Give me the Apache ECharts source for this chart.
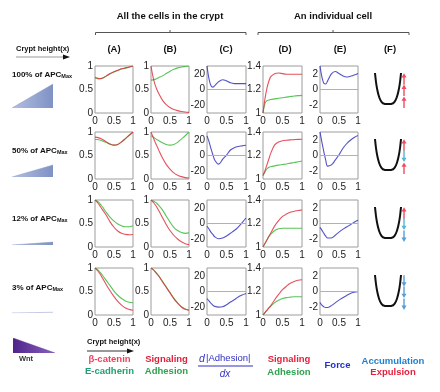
<!DOCTYPE html>
<html><head><meta charset="utf-8">
<script src="https://cdn.jsdelivr.net/npm/echarts/dist/echarts.min.js"></script>
<style>html,body{margin:0;padding:0;background:#fff}#c{width:440px;height:392px}</style>
</head><body><div id="c"></div>
<script>
// ---------- DATA ----------
const xs = [0,0.05,0.1,0.15,0.2,0.3,0.4,0.5,0.6,0.7,0.8,0.9,1];
const rowLabels = ['100% of APC','50% of APC','12% of APC','3% of APC'];
const apcLevels = [100, 50, 12, 3];
const colLabels = ['(A)','(B)','(C)','(D)','(E)','(F)'];
const xTicks = [0, 0.5, 1];

// Row 1 : 100% APC
const r1_betaCatenin = [0.76,0.745,0.735,0.735,0.745,0.79,0.84,0.88,0.91,0.94,0.96,0.98,1.0];
const r1_eCadherin   = [0.745,0.735,0.725,0.73,0.74,0.785,0.835,0.875,0.905,0.935,0.955,0.975,0.995];
const r1_signaling   = [1.0,0.78,0.62,0.51,0.42,0.275,0.18,0.116,0.076,0.05,0.032,0.02,0.014];
const r1_adhesion    = [0.7,0.705,0.715,0.73,0.75,0.79,0.84,0.89,0.93,0.96,0.98,0.99,1.0];
const r1_dAdhesion   = [30,14,5,3,5,10,12.5,11,8.5,7.5,7.5,7.5,7.5];
const r1_cellSignal  = [1.0,1.12,1.21,1.27,1.31,1.335,1.34,1.335,1.33,1.33,1.33,1.33,1.33];
const r1_cellAdh     = [1.0,1.08,1.105,1.11,1.115,1.12,1.125,1.13,1.135,1.14,1.145,1.148,1.15];
const r1_force       = [3.0,1.6,0.8,0.7,1.1,2.0,2.3,2.05,1.75,1.6,1.7,1.85,2.05];

// Row 2 : 50% APC
const r2_betaCatenin = [0.89,0.885,0.875,0.86,0.84,0.79,0.745,0.72,0.735,0.79,0.86,0.93,1.0];
const r2_eCadherin   = [0.84,0.84,0.835,0.825,0.81,0.775,0.74,0.72,0.735,0.79,0.86,0.93,1.0];
const r2_signaling   = [1.0,0.9,0.8,0.71,0.62,0.45,0.31,0.21,0.13,0.08,0.05,0.03,0.02];
const r2_adhesion    = [0.92,0.9,0.87,0.84,0.82,0.77,0.735,0.72,0.735,0.78,0.85,0.92,1.0];
const r2_dAdhesion   = [25,18,9,1,-6,-11,-5,0.5,7,10,11.5,12.3,13];
const r2_cellSignal  = [1.03,1.07,1.12,1.17,1.22,1.29,1.315,1.325,1.33,1.333,1.335,1.337,1.338];
const r2_cellAdh     = [1.03,1.06,1.085,1.1,1.105,1.112,1.118,1.123,1.128,1.135,1.14,1.147,1.153];
const r2_force       = [3.0,1.7,0.5,-0.6,-1.35,-1.2,-0.6,0.1,0.9,1.5,1.95,2.3,2.55];

// Row 3 : 12% APC
const r3_betaCatenin = [1.0,0.96,0.91,0.85,0.79,0.67,0.53,0.42,0.34,0.29,0.27,0.26,0.265];
const r3_eCadherin   = [1.0,0.98,0.95,0.9,0.85,0.73,0.63,0.55,0.49,0.45,0.43,0.43,0.45];
const r3_signaling   = [1.0,0.96,0.91,0.85,0.78,0.63,0.48,0.35,0.25,0.17,0.11,0.07,0.05];
const r3_adhesion    = [1.0,0.985,0.96,0.93,0.89,0.79,0.66,0.53,0.42,0.35,0.31,0.29,0.3];
const r3_dAdhesion   = [-3.5,-7,-11,-14,-17,-19.5,-18.5,-16,-12.5,-9,-4.5,1,7];
const r3_cellSignal  = [1.0,1.03,1.06,1.09,1.12,1.18,1.225,1.26,1.28,1.295,1.305,1.31,1.315];
const r3_cellAdh     = [1.0,1.03,1.06,1.09,1.11,1.14,1.155,1.16,1.16,1.16,1.16,1.16,1.16];
const r3_force       = [-0.5,-0.85,-1.25,-1.6,-1.85,-1.85,-1.5,-1.1,-0.75,-0.45,-0.15,0.15,0.4];

// Row 4 : 3% APC
const r4_betaCatenin = [1.0,0.96,0.91,0.85,0.78,0.64,0.51,0.39,0.29,0.21,0.15,0.12,0.1];
const r4_eCadherin   = [1.0,0.975,0.94,0.89,0.84,0.73,0.62,0.51,0.42,0.35,0.3,0.27,0.26];
const r4_signaling   = [1.0,0.97,0.93,0.88,0.83,0.71,0.59,0.47,0.35,0.25,0.17,0.12,0.1];
const r4_adhesion    = [1.0,0.972,0.935,0.887,0.838,0.718,0.598,0.478,0.358,0.258,0.178,0.127,0.105];
const r4_dAdhesion   = [-9,-12,-15,-17.5,-19,-20,-19.5,-17,-13.5,-10.5,-7,-4.5,-2.5];
const r4_cellSignal  = [1.0,1.02,1.04,1.06,1.08,1.13,1.175,1.215,1.245,1.27,1.285,1.295,1.3];
const r4_cellAdh     = [1.0,1.02,1.04,1.06,1.075,1.105,1.125,1.14,1.148,1.152,1.155,1.155,1.155];
const r4_force       = [-1.4,-1.75,-1.95,-2.05,-2.05,-1.8,-1.45,-1.1,-0.8,-0.5,-0.25,-0.1,0.0];

// Column F : potential well and arrows
const uX = [-1,-0.95,-0.9,-0.8,-0.7,-0.6,-0.5,-0.4,-0.3,-0.2,0,0.2,0.3,0.4,0.5,0.6,0.7,0.8,0.9,0.95,1];
const uY = [1,0.8,0.64,0.41,0.25,0.14,0.07,0.03,0.01,0,0,0,0.01,0.03,0.07,0.14,0.25,0.41,0.64,0.8,1];
const arrowY = [0.81, 0.44, 0.06];
const arrowDirs = [
  ['up','up','up'],
  ['up','down','up'],
  ['up','down','down'],
  ['down','down','down']
];
const arrowColors = [
  ['#e8213a','#e8213a','#e8213a'],
  ['#e8213a','#25a6c8','#e8213a'],
  ['#e8213a','#25a6c8','#2b86d2'],
  ['#2b86d2','#2b86d2','#2b86d2']
];
const wntLevels = [[0,1],[1,0]];

// ---------- LAYOUT / STYLE ----------
const RED = '#e2323f', GREEN = '#3cb83c', BLUE = '#3535c0';
const FONT = 'Liberation Sans';
const rowTops = [66, 132, 200, 268];
const PH = 47;
const colLefts = [95, 151, 207, 263, 320];
const colW = [38, 38, 39, 39, 38];
const triBottoms = [108, 177, 245, 313];
const labelYs = [74, 150, 218, 287];

const rows = [
  [r1_betaCatenin,r1_eCadherin,r1_signaling,r1_adhesion,r1_dAdhesion,r1_cellSignal,r1_cellAdh,r1_force],
  [r2_betaCatenin,r2_eCadherin,r2_signaling,r2_adhesion,r2_dAdhesion,r2_cellSignal,r2_cellAdh,r2_force],
  [r3_betaCatenin,r3_eCadherin,r3_signaling,r3_adhesion,r3_dAdhesion,r3_cellSignal,r3_cellAdh,r3_force],
  [r4_betaCatenin,r4_eCadherin,r4_signaling,r4_adhesion,r4_dAdhesion,r4_cellSignal,r4_cellAdh,r4_force]
];

const pair = a => xs.map((x,i)=>[x,a[i]]);
const grids=[], xAxes=[], yAxes=[], series=[];
const labelStyle = {fontFamily: FONT, fontSize: 10, color: '#222'};

function addGrid(left, top, width, height, show){
  grids.push({left, top, width, height, show: !!show, borderColor:'#9c9c9c', borderWidth:1, backgroundColor: show?'#fff':'transparent', containLabel:false});
  return grids.length-1;
}
const yCfg = [
  {min:0,max:1,interval:0.5,fmt:v=>String(Math.round(v*10)/10)},
  {min:0,max:1,interval:0.5,fmt:v=>String(Math.round(v*10)/10)},
  {min:-30,max:30,interval:10,fmt:v=>{const r=Math.round(v);return r%20===0?String(r):'';}},
  {min:1,max:1.4,interval:0.2,fmt:v=>{const r=Math.round(v*10)/10;return r===1?'1':r.toFixed(1);}},
  {min:-3,max:3,interval:1,fmt:v=>{const r=Math.round(v);return r%2===0?String(r):'';}}
];

function line(gi, data, color, extra){
  return Object.assign({type:'line', xAxisIndex:gi, yAxisIndex:gi, data:pair(data), showSymbol:false, symbol:'none', smooth:0.35,
    lineStyle:{color, width:1.1, opacity:0.85}, itemStyle:{color}, silent:true, z:3}, extra||{});
}
const zeroLine = {silent:true, symbol:['none','none'], label:{show:false}, lineStyle:{color:'#a9b1c9', width:1, type:'solid'}, data:[{yAxis:0}]};

for(let r=0;r<4;r++){
  const d = rows[r];
  for(let c=0;c<5;c++){
    const gi = addGrid(colLefts[c], rowTops[r], colW[c], PH, true);
    xAxes.push({gridIndex:gi, type:'value', min:0, max:1, interval:0.5, axisLine:{show:false}, axisTick:{show:false}, splitLine:{show:false},
      axisLabel:Object.assign({margin:3, formatter:v=>String(Math.round(v*10)/10)}, labelStyle)});
    const yc = yCfg[c];
    yAxes.push({gridIndex:gi, type:'value', min:yc.min, max:yc.max, interval:yc.interval, axisLine:{show:false}, axisTick:{show:false}, splitLine:{show:false},
      axisLabel:Object.assign({margin:2, formatter:yc.fmt}, labelStyle)});
    if(c===0){ series.push(line(gi,d[1],GREEN)); series.push(line(gi,d[0],RED)); }
    if(c===1){ series.push(line(gi,d[3],GREEN)); series.push(line(gi,d[2],RED)); }
    if(c===2){ series.push(line(gi,d[4],BLUE,{markLine:zeroLine})); }
    if(c===3){ series.push(line(gi,d[6],GREEN)); series.push(line(gi,d[5],RED)); }
    if(c===4){ series.push(line(gi,d[7],BLUE,{markLine:zeroLine})); }
  }
  // column F
  const gf = addGrid(375, rowTops[r], 32, PH, false);
  xAxes.push({gridIndex:gf, type:'value', min:-1, max:1.46, show:false});
  yAxes.push({gridIndex:gf, type:'value', min:-0.29, max:1.226, show:false});
  series.push({type:'line', xAxisIndex:gf, yAxisIndex:gf, data:uX.map((x,i)=>[x,uY[i]]), smooth:0.4, showSymbol:false, symbol:'none',
    lineStyle:{color:'#111', width:2}, silent:true});
  const arrowPath = 'path://M2.5,0 L5,4.2 L3.2,4.2 L3.2,11 L1.8,11 L1.8,4.2 L0,4.2 Z';
  series.push({type:'scatter', xAxisIndex:gf, yAxisIndex:gf, clip:false, silent:true,
    data: arrowY.map((y,i)=>({value:[1.23,y], symbolRotate: arrowDirs[r][i]==='up'?0:180, itemStyle:{color:arrowColors[r][i]}})),
    symbol: arrowPath, symbolSize:[5,11.5]});
  // APC triangle
  const gt = addGrid(12, triBottoms[r]-24, 41, 24, false);
  xAxes.push({gridIndex:gt, type:'value', min:0, max:1, show:false});
  yAxes.push({gridIndex:gt, type:'value', min:0, max:100, show:false});
  series.push({type:'line', xAxisIndex:gt, yAxisIndex:gt, data:[[0,0],[1,apcLevels[r]]], showSymbol:false, symbol:'none', silent:true,
    lineStyle:{color:'#8797c6', width:0.5},
    areaStyle:{opacity:1, color:new echarts.graphic.LinearGradient(0,0,1,0,[{offset:0,color:'#b3bfe0'},{offset:1,color:'#7f92c4'}])}});
}
// Wnt triangle
const gw = addGrid(13, 338, 42, 15, false);
xAxes.push({gridIndex:gw, type:'value', min:0, max:1, show:false});
yAxes.push({gridIndex:gw, type:'value', min:0, max:1, show:false});
series.push({type:'line', xAxisIndex:gw, yAxisIndex:gw, data:wntLevels, showSymbol:false, symbol:'none', silent:true,
  lineStyle:{color:'#5a2d92', width:0.5},
  areaStyle:{opacity:1, color:new echarts.graphic.LinearGradient(0,0,1,0,[{offset:0,color:'#4f238a'},{offset:1,color:'#8a62c0'}])}});

// ---------- TEXT / DECORATION ----------
const g = [];
function txt(text, x, y, o){
  g.push({type:'text', x, y, silent:true, style:Object.assign({text, fontFamily:FONT, fontSize:9.5, fontWeight:'bold', fill:'#111', textAlign:'center', textVerticalAlign:'middle'}, o||{})});
}
txt('All the cells in the crypt', 170, 16);
txt('An individual cell', 333, 16);
const colCenters = [114, 170, 226, 285, 340, 390];
colLabels.forEach((l,i)=>txt(l, colCenters[i], 49));
function bracket(x1,x2,xm,y){
  g.push({type:'polyline', silent:true, shape:{points:[[x1,y+2.5],[x1,y],[x2,y],[x2,y+2.5]]}, style:{stroke:'#555', lineWidth:1, fill:null}});
  g.push({type:'line', silent:true, shape:{x1:xm,y1:y,x2:xm,y2:y-2.5}, style:{stroke:'#555', lineWidth:1}});
}
bracket(95.5, 246, 170, 32.5);
bracket(258, 409, 333, 32.5);
function arrow(x1,x2,y,stroke){
  g.push({type:'line', silent:true, shape:{x1,y1:y,x2:x2-4,y2:y}, style:{stroke, lineWidth:1}});
  g.push({type:'polygon', silent:true, shape:{points:[[x2,y],[x2-7,y-2.5],[x2-7,y+2.5]]}, style:{fill:'#111'}});
}
txt('Crypt height(x)', 16, 49, {textAlign:'left', fontSize:7.5});
arrow(16, 70, 57, '#999');
txt('Crypt height(x)', 87, 342, {textAlign:'left', fontSize:7.5});
arrow(87, 134, 351, '#333');
for(let r=0;r<4;r++){
  g.push({type:'text', x:12, y:labelYs[r], silent:true, style:{text:'{a|'+rowLabels[r]+'}{s|Max}', textVerticalAlign:'middle',
    rich:{a:{fontFamily:FONT, fontSize:8, fontWeight:'bold', fill:'#111', lineHeight:10, verticalAlign:'bottom'},
          s:{fontFamily:FONT, fontSize:5.5, fontWeight:'bold', fill:'#111', lineHeight:10, verticalAlign:'bottom'}}}});
}
txt('Wnt', 26, 359, {fontSize:7.5, fill:'#333'});
txt('β-catenin', 109.5, 359, {fill:'#f0405c'});
txt('E-cadherin', 109.5, 371.5, {fill:'#1fa272'});
txt('Signaling', 166.5, 359, {fill:'#e01f3a'});
txt('Adhesion', 166.5, 371.5, {fill:'#2fa150'});
txt('d', 199, 359, {textAlign:'left', fontStyle:'italic', fontWeight:'normal', fontSize:10.5, fill:'#3030c0'});
txt('|Adhesion|', 206, 358.5, {textAlign:'left', fontWeight:'normal', fontSize:9.5, fill:'#3030c0'});
g.push({type:'line', silent:true, shape:{x1:198,y1:366,x2:253,y2:366}, style:{stroke:'#3030c0', lineWidth:1}});
txt('dx', 225, 374, {fontStyle:'italic', fontWeight:'normal', fontSize:10, fill:'#3030c0'});
txt('Signaling', 289, 359, {fill:'#e8203c'});
txt('Adhesion', 289, 372, {fill:'#2fa150'});
txt('Force', 337.5, 365, {fill:'#1f2fcc'});
txt('Accumulation', 393, 361, {fill:'#1f7fd0'});
txt('Expulsion', 393, 372.5, {fill:'#e8203c'});

const chart = echarts.init(document.getElementById('c'), null, {renderer:'canvas'});
chart.setOption({animation:false, backgroundColor:'#fff', grid:grids, xAxis:xAxes, yAxis:yAxes, series, graphic:g});
</script></body></html>
